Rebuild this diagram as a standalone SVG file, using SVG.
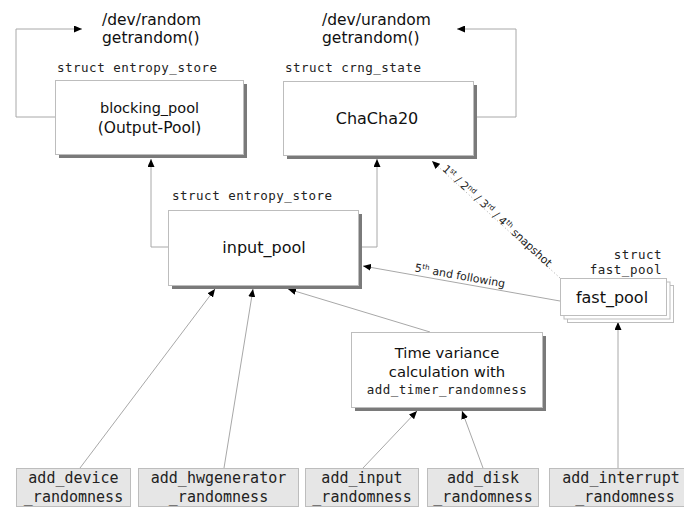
<svg xmlns="http://www.w3.org/2000/svg" width="684" height="507" viewBox="0 0 684 507">
  <defs>
    <marker id="arrow" viewBox="0 0 8 7" markerWidth="8" markerHeight="7" refX="8" refY="3.5" orient="auto" markerUnits="userSpaceOnUse">
      <path d="M0,0 L8,3.5 L0,7 z" fill="#000"/>
    </marker>
  </defs>
  <style>
    .box { fill: #fff; stroke: #bdbdbd; stroke-width: 1; }
    .shadow { fill: #7a7a7a; }
    .src { fill: #e6e6e6; stroke: #bdbdbd; stroke-width: 1; }
    .sans { font-family: "DejaVu Sans", "Liberation Sans", sans-serif; fill: #111; }
    .mono { font-family: "DejaVu Sans Mono", "Liberation Mono", monospace; fill: #222; }
    .lbl { font-size: 12.5px; letter-spacing: 0.5px; }
    .srcTxt { font-size: 15px; text-anchor: middle; }
    .edge { fill: none; stroke: #a8a8a8; stroke-width: 1; marker-end: url(#arrow); }
    .dotted { stroke-dasharray: 1 2.5; }
    .elbl { font-family: "DejaVu Sans", "Liberation Sans", sans-serif; font-size: 11px; fill: #222; text-anchor: middle; }
  </style>

  <!-- connectors -->
  <g id="connectors">
    <polyline class="edge" points="55,117 16,117 16,29 82,29"/>
    <polyline class="edge" points="473,117 516,117 516,29 457,29"/>
    <polyline class="edge" points="168,247 151,247 151,159"/>
    <polyline class="edge" points="362,247 377,247 377,159"/>
    <line class="edge dotted" x1="560" y1="278" x2="432" y2="161"/>
    <line class="edge" x1="560" y1="301" x2="363" y2="266"/>
    <line class="edge" x1="80" y1="468" x2="215" y2="289"/>
    <line class="edge" x1="224" y1="468" x2="253" y2="289"/>
    <line class="edge" x1="430" y1="332" x2="288" y2="289"/>
    <line class="edge" x1="363" y1="468" x2="417" y2="411"/>
    <line class="edge" x1="483" y1="468" x2="462" y2="411"/>
    <line class="edge" x1="618" y1="468" x2="618" y2="322"/>
    <text class="elbl" transform="translate(497,216) rotate(42.68)" dy="3.5">1<tspan baseline-shift="super" font-size="65%">st</tspan> / 2<tspan baseline-shift="super" font-size="65%">nd</tspan> / 3<tspan baseline-shift="super" font-size="65%">rd</tspan> / 4<tspan baseline-shift="super" font-size="65%">th</tspan> snapshot</text>
    <text class="elbl" transform="translate(460,276) rotate(10.18)" dy="3.5" font-size="11.5px">5<tspan baseline-shift="super" font-size="65%">th</tspan> and following</text>
  </g>

  <!-- output side -->
  <g id="dev_random">
    <text class="sans" x="102" y="25" font-size="15.5">/dev/random</text>
    <text class="sans" x="102" y="43" font-size="15.5">getrandom()</text>
  </g>
  <g id="dev_urandom">
    <text class="sans" x="322" y="25" font-size="15.5">/dev/urandom</text>
    <text class="sans" x="322" y="43" font-size="15.5">getrandom()</text>
  </g>

  <g id="blocking_pool">
    <text class="mono lbl" x="57" y="72">struct entropy_store</text>
    <rect class="shadow" x="59" y="84" width="188" height="74"/>
    <rect class="box" x="55.5" y="80.5" width="188" height="74"/>
    <text class="sans" x="149.5" y="113" font-size="14.5" text-anchor="middle">blocking_pool</text>
    <text class="sans" x="149.5" y="133" font-size="15.5" text-anchor="middle">(Output-Pool)</text>
  </g>

  <g id="chacha20">
    <text class="mono lbl" x="285" y="72">struct crng_state</text>
    <rect class="shadow" x="287" y="85" width="190" height="74"/>
    <rect class="box" x="283.5" y="81.5" width="190" height="74"/>
    <text class="sans" x="377" y="124" font-size="16" text-anchor="middle">ChaCha20</text>
  </g>

  <g id="input_pool">
    <text class="mono lbl" x="172" y="200">struct entropy_store</text>
    <rect class="shadow" x="172" y="214" width="190" height="75"/>
    <rect class="box" x="168.5" y="210.5" width="190" height="75"/>
    <text class="sans" x="264" y="253" font-size="16" text-anchor="middle">input_pool</text>
  </g>

  <g id="fast_pool">
    <text class="mono lbl" x="662" y="259" text-anchor="end">struct</text>
    <text class="mono lbl" x="662" y="274" text-anchor="end">fast_pool</text>
    <rect class="box" x="567.5" y="285.5" width="106" height="37"/>
    <rect class="box" x="564" y="282" width="106" height="37"/>
    <rect class="box" x="560.5" y="278.5" width="106" height="37"/>
    <text class="sans" x="612" y="303" font-size="16" text-anchor="middle">fast_pool</text>
  </g>

  <g id="time_variance">
    <rect class="shadow" x="355" y="336" width="191" height="75"/>
    <rect class="box" x="351.5" y="332.5" width="191" height="75"/>
    <text class="sans" x="447" y="358" font-size="14.8" text-anchor="middle">Time variance</text>
    <text class="sans" x="447" y="377" font-size="14.8" text-anchor="middle">calculation with</text>
    <text class="mono lbl" x="447" y="394" text-anchor="middle">add_timer_randomness</text>
  </g>

  <!-- entropy sources -->
  <g id="add_device_randomness">
    <rect class="src" x="16.5" y="468.5" width="114" height="38"/>
    <text class="mono srcTxt" x="73.5" y="483">add_device</text>
    <text class="mono srcTxt" x="73.5" y="502">_randomness</text>
  </g>
  <g id="add_hwgenerator_randomness">
    <rect class="src" x="138.5" y="468.5" width="160" height="38"/>
    <text class="mono srcTxt" x="218.5" y="483">add_hwgenerator</text>
    <text class="mono srcTxt" x="218.5" y="502">_randomness</text>
  </g>
  <g id="add_input_randomness">
    <rect class="src" x="305.5" y="468.5" width="113" height="38"/>
    <text class="mono srcTxt" x="362" y="483">add_input</text>
    <text class="mono srcTxt" x="362" y="502">_randomness</text>
  </g>
  <g id="add_disk_randomness">
    <rect class="src" x="427.5" y="468.5" width="111" height="38"/>
    <text class="mono srcTxt" x="483" y="483">add_disk</text>
    <text class="mono srcTxt" x="483" y="502">_randomness</text>
  </g>
  <g id="add_interrupt_randomness">
    <rect class="src" x="549.5" y="468.5" width="152" height="38"/>
    <text class="mono srcTxt" x="621" y="483">add_interrupt</text>
    <text class="mono srcTxt" x="625" y="502">_randomness</text>
  </g>
</svg>
